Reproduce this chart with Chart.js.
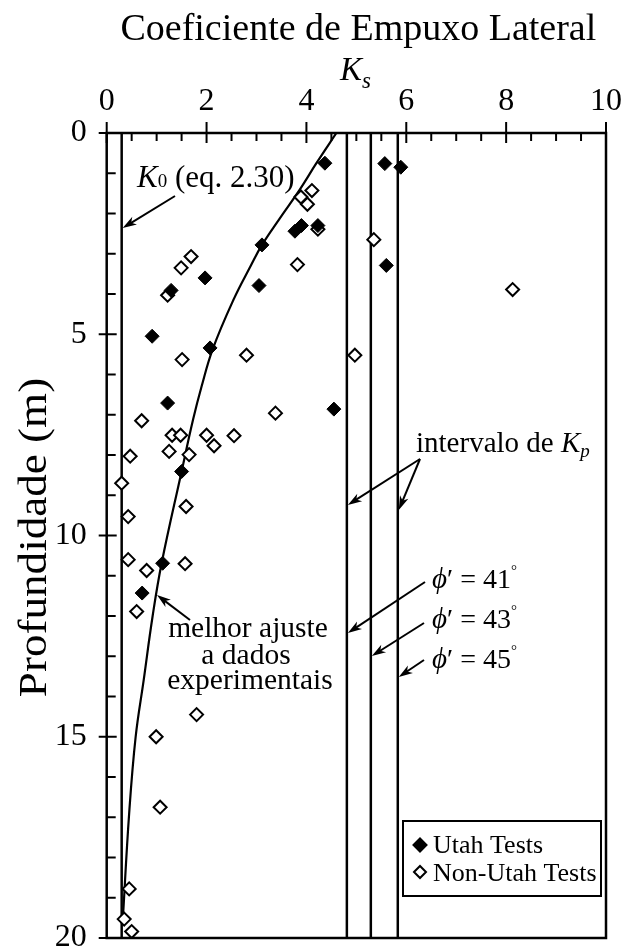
<!DOCTYPE html>
<html>
<head>
<meta charset="utf-8">
<script src="https://cdn.jsdelivr.net/npm/chart.js@4.4.1/dist/chart.umd.min.js"></script>
<style>
  html, body { margin: 0; padding: 0; background: #fff; }
</style>
</head>
<body>
<canvas id="chart" width="625" height="952"></canvas>
<script>
const SERIF = '"Liberation Serif", "Times New Roman", serif';

// Utah Tests (marcadores cheios): Ks e profundidade (m)
const utahKs = [4.37, 5.57, 5.89, 3.90, 3.77, 4.23, 3.11, 5.60, 1.97, 3.05, 1.29, 0.91, 2.07, 1.22, 4.55, 1.50, 1.12, 0.71];
const utahZ  = [0.75, 0.76, 0.85, 2.30, 2.44, 2.30, 2.78, 3.29, 3.60, 3.79, 3.91, 5.05, 5.34, 6.71, 6.86, 8.41, 10.69, 11.43];

// Non-Utah Tests (marcadores vazados)
const nonUtahKs = [4.11, 3.89, 4.02, 4.23, 5.35, 1.69, 1.49, 3.82, 8.13, 1.22, 2.80, 1.51, 4.97, 3.38, 0.70,
                   1.31, 1.48, 2.00, 2.55, 2.15, 1.25, 1.65, 0.47, 0.30, 1.59, 0.43, 0.43, 1.57, 0.80, 0.60,
                   1.80, 0.99, 1.07, 0.45, 0.35, 0.50];
const nonUtahZ  = [1.43, 1.59, 1.77, 2.39, 2.65, 3.07, 3.35, 3.27, 3.89, 4.03, 5.52, 5.63, 5.52, 6.96, 7.15,
                   7.51, 7.51, 7.51, 7.52, 7.77, 7.91, 7.99, 8.03, 8.70, 9.28, 9.53, 10.60, 10.70, 10.87, 11.89,
                   14.45, 15.00, 16.75, 18.78, 19.53, 19.84];

const fitKs = [4.60, 4.20, 3.87, 3.45, 3.11, 2.88, 2.54, 2.12, 1.90, 1.73, 1.50, 1.10, 0.92, 0.74, 0.58, 0.45, 0.32];
const fitZ  = [0.00, 0.75, 1.40, 2.15, 2.78, 3.31, 4.14, 5.38, 6.30, 7.12, 8.41, 10.69, 12.00, 13.60, 15.00, 16.90, 19.60];

// K0 (eq. 2.30) e intervalo de Kp
const k0 = 0.3;
const kpValues = [4.81, 5.29, 5.83];
const kpAngles = [41, 43, 45];

const depthRange = [0, 20];
const xTicks = [0, 2, 4, 6, 8, 10];
const yTicks = [0, 5, 10, 15, 20];

const toPoints = (xs, ys) => xs.map((v, i) => ({ x: v, y: ys[i] }));
const vline = (v) => depthRange.map(d => ({ x: v, y: d }));

const lineStyle = { showLine: true, borderColor: '#000', borderWidth: 2.5, pointRadius: 0, fill: false };

function drawRuns(ctx, x, y, runs, align) {
  let w = 0;
  runs.forEach(r => { ctx.font = r.font; w += ctx.measureText(r.t).width; });
  let cx = align === 'center' ? x - w / 2 : x;
  runs.forEach(r => {
    ctx.font = r.font;
    ctx.fillText(r.t, cx, y + (r.dy || 0));
    cx += ctx.measureText(r.t).width;
  });
}

function arrow(ctx, x1, y1, x2, y2) {
  const ang = Math.atan2(y2 - y1, x2 - x1);
  const len = 14, hw = 4.5;
  ctx.beginPath();
  ctx.moveTo(x1, y1);
  ctx.lineTo(x2 - Math.cos(ang) * 8, y2 - Math.sin(ang) * 8);
  ctx.stroke();
  const bx = x2 - Math.cos(ang) * len, by = y2 - Math.sin(ang) * len;
  const nx = x2 - Math.cos(ang) * (len - 4), ny = y2 - Math.sin(ang) * (len - 4);
  ctx.beginPath();
  ctx.moveTo(x2, y2);
  ctx.lineTo(bx - Math.sin(ang) * hw, by + Math.cos(ang) * hw);
  ctx.lineTo(nx, ny);
  ctx.lineTo(bx + Math.sin(ang) * hw, by - Math.cos(ang) * hw);
  ctx.closePath();
  ctx.fill();
}

const decor = {
  id: 'decor',
  afterDraw(chart) {
    const { ctx, chartArea: a, scales: { x, y } } = chart;
    ctx.save();
    ctx.strokeStyle = '#000';
    ctx.fillStyle = '#000';
    ctx.lineWidth = 2.5;
    ctx.strokeRect(a.left, a.top, a.right - a.left, a.bottom - a.top);

    // marcas das escalas
    ctx.lineWidth = 2;
    for (let i = 0; i <= 20; i++) {
      const px = x.getPixelForValue(i * 0.5);
      const major = i % 4 === 0;
      ctx.beginPath();
      ctx.moveTo(px, major ? a.top - 11 : a.top);
      ctx.lineTo(px, a.top + (major ? 10 : 8));
      ctx.stroke();
    }
    for (let v = 0; v <= 20; v++) {
      const py = y.getPixelForValue(v);
      const major = v % 5 === 0;
      ctx.beginPath();
      ctx.moveTo(major ? a.left - 8 : a.left, py);
      ctx.lineTo(a.left + (major ? 10 : 9), py);
      ctx.stroke();
    }

    ctx.textBaseline = 'alphabetic';
    ctx.textAlign = 'left';

    // títulos
    const cx = (a.left + a.right) / 2;
    drawRuns(ctx, cx + 2, 40, [{ t: 'Coeficiente de Empuxo Lateral', font: `38px ${SERIF}` }], 'center');
    drawRuns(ctx, 340, 80, [
      { t: 'K', font: `italic 33px ${SERIF}` },
      { t: 's', font: `italic 23px ${SERIF}`, dy: 8 }
    ]);
    ctx.save();
    ctx.translate(33, (a.top + a.bottom) / 2 + 2);
    ctx.rotate(-Math.PI / 2);
    ctx.scale(1.1, 1);
    drawRuns(ctx, 0, 13, [{ t: 'Profundidade (m)', font: `41px ${SERIF}` }], 'center');
    ctx.restore();

    // anotações
    ctx.lineWidth = 2;
    drawRuns(ctx, 137, 187, [
      { t: 'K', font: `italic 31px ${SERIF}` },
      { t: '0', font: `19px ${SERIF}` },
      { t: ' (eq. 2.30)', font: `31px ${SERIF}` }
    ]);
    arrow(ctx, 175, 196, x.getPixelForValue(k0) + 1, 228);

    const fitFont = `29.5px ${SERIF}`;
    drawRuns(ctx, 248, 637, [{ t: 'melhor ajuste', font: fitFont }], 'center');
    drawRuns(ctx, 246, 664, [{ t: 'a dados', font: fitFont }], 'center');
    drawRuns(ctx, 250, 689, [{ t: 'experimentais', font: fitFont }], 'center');
    arrow(ctx, 190, 620, 157, 595);

    drawRuns(ctx, 416, 452, [
      { t: 'intervalo de ', font: `29px ${SERIF}` },
      { t: 'K', font: `italic 29px ${SERIF}` },
      { t: 'p', font: `italic 19px ${SERIF}`, dy: 5 }
    ]);
    arrow(ctx, 420, 459, x.getPixelForValue(kpValues[0]) + 1, 505);
    arrow(ctx, 420, 459, x.getPixelForValue(kpValues[2]) + 1, 510);

    const phiY = [588, 628, 668];
    const phiTail = [[425, 582], [424, 623], [424, 660]];
    const phiHead = [633, 656, 677];
    kpAngles.forEach((ang, i) => {
      drawRuns(ctx, 432, phiY[i], [
        { t: 'ϕ', font: `italic 29px ${SERIF}` },
        { t: '′ = ' + ang, font: `28px ${SERIF}` },
        { t: '°', font: `15px ${SERIF}`, dy: -13 }
      ]);
      arrow(ctx, phiTail[i][0], phiTail[i][1], x.getPixelForValue(kpValues[i]) + 1, phiHead[i]);
    });

    // legenda
    ctx.fillStyle = '#fff';
    ctx.fillRect(403, 821, 198, 75);
    ctx.fillStyle = '#000';
    ctx.lineWidth = 2;
    ctx.strokeRect(403, 821, 198, 75);
    Chart.helpers.drawPoint(ctx, { pointStyle: 'rectRot', radius: 6.5, borderWidth: 1 }, 420, 845);
    ctx.fill();
    ctx.fillStyle = '#fff';
    Chart.helpers.drawPoint(ctx, { pointStyle: 'rectRot', radius: 6, borderWidth: 2 }, 420, 872);
    ctx.fillStyle = '#000';
    drawRuns(ctx, 433, 853, [{ t: 'Utah Tests', font: `26px ${SERIF}` }]);
    drawRuns(ctx, 433, 881, [{ t: 'Non-Utah Tests', font: `26px ${SERIF}` }]);
    ctx.restore();
  }
};

const tickFont = { family: SERIF, size: 32 };

new Chart(document.getElementById('chart'), {
  type: 'scatter',
  data: {
    datasets: [
      {
        label: 'Utah Tests',
        data: toPoints(utahKs, utahZ),
        pointStyle: 'rectRot', pointRadius: 7,
        backgroundColor: '#000', borderColor: '#000', borderWidth: 1
      },
      {
        label: 'Non-Utah Tests',
        data: toPoints(nonUtahKs, nonUtahZ),
        pointStyle: 'rectRot', pointRadius: 6.5,
        backgroundColor: '#fff', borderColor: '#000', borderWidth: 2
      },
      { label: 'melhor ajuste', data: toPoints(fitKs, fitZ), ...lineStyle, borderWidth: 2.2, tension: 0.4 },
      { label: 'K0', data: vline(k0), ...lineStyle },
      ...kpValues.map((kp, i) => ({ label: 'Kp ' + kpAngles[i], data: vline(kp), ...lineStyle }))
    ]
  },
  options: {
    responsive: false,
    animation: false,
    devicePixelRatio: 1,
    layout: { padding: { left: 0, top: 0, right: 19, bottom: 14 } },
    plugins: { legend: { display: false }, tooltip: { enabled: false } },
    scales: {
      x: {
        type: 'linear', position: 'top', min: 0, max: 10,
        afterBuildTicks: s => { s.ticks = xTicks.map(v => ({ value: v })); },
        afterFit: s => { s.height = 133; s.paddingLeft = 0; s.paddingRight = 0; },
        ticks: { font: tickFont, color: '#000', padding: 12, maxRotation: 0 },
        grid: { display: false, drawTicks: false },
        border: { display: false }
      },
      y: {
        type: 'linear', position: 'left', reverse: true, min: 0, max: 20,
        afterBuildTicks: s => { s.ticks = yTicks.map(v => ({ value: v })); },
        afterFit: s => { s.width = 106.7; s.paddingTop = 0; s.paddingBottom = 0; },
        ticks: { font: tickFont, color: '#000', padding: 20 },
        grid: { display: false, drawTicks: false },
        border: { display: false }
      }
    }
  },
  plugins: [decor]
});
</script>
</body>
</html>
